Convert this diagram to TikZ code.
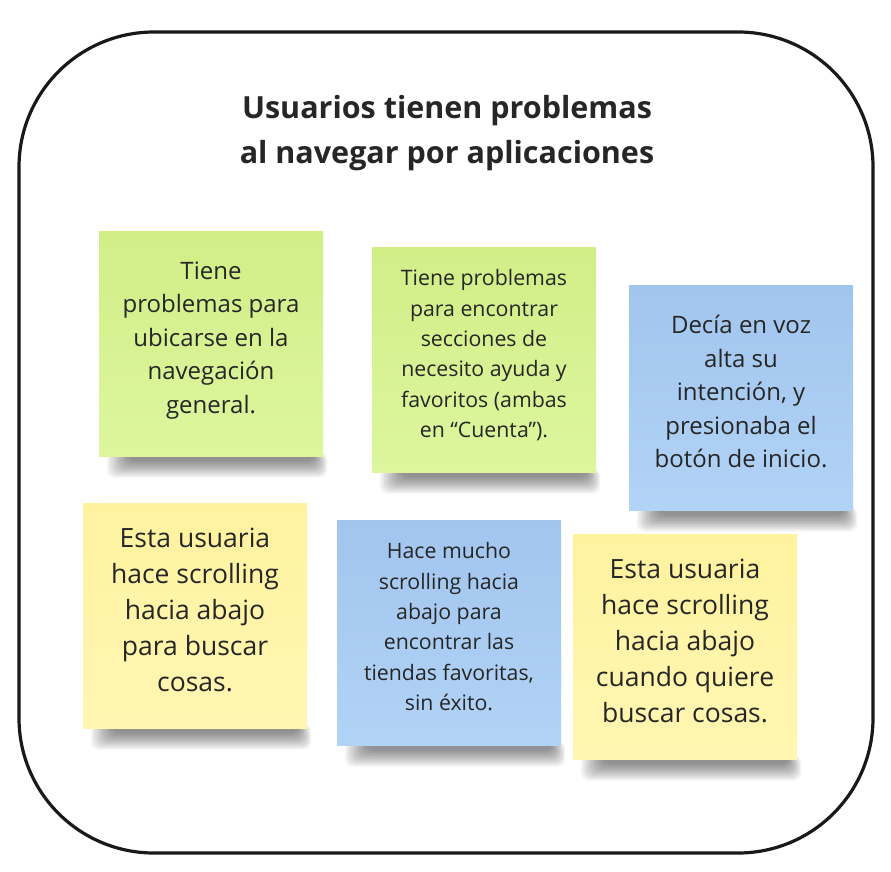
\documentclass[tikz,border=0pt]{standalone}
\usepackage{fontspec}
\setmainfont{Open Sans}
\usetikzlibrary{positioning}

\definecolor{greentop}{HTML}{D1EE87}
\definecolor{greenbot}{HTML}{DDF69E}
\definecolor{bluetop}{HTML}{A2C5EE}
\definecolor{bluebot}{HTML}{B1D3F6}
\definecolor{yellowtop}{HTML}{FFF29F}
\definecolor{yellowbot}{HTML}{FFF6B2}
\definecolor{inkgray}{HTML}{262626}

\pgfdeclarelayer{background}
\pgfsetlayers{background,main}

\tikzset{
  frame/.style={draw=black!90, line width=3.2pt, rounded corners=135pt},
  title/.style={align=center, text=inkgray, font=\bfseries\fontsize{30.5}{45}\selectfont},
  note/.style={minimum width=224pt, minimum height=225pt, inner sep=0pt, text depth=13pt, align=center, text=inkgray},
  greennote/.style={note, top color=greentop, bottom color=greenbot},
  bluenote/.style={note, top color=bluetop, bottom color=bluebot},
  yellownote/.style={note, top color=yellowtop, bottom color=yellowbot},
  bigtext/.style={font=\fontsize{26.5}{36}\selectfont},
  midtext/.style={font=\fontsize{24}{33.5}\selectfont},
  smalltext/.style={font=\fontsize{21.3}{30.3}\selectfont},
}

\begin{document}
\begin{tikzpicture}[x=1pt,y=-1pt]
\useasboundingbox (0,0) rectangle (891,872);
\draw[frame] (19,32) rectangle (873,853);

\node[title] (title) at (447,133) {Usuarios tienen problemas\\al navegar por aplicaciones};

% first row
\node[greennote, midtext] (n1) at (211,344) {Tiene\\problemas para\\ubicarse en la\\navegación\\general.};
\node[greennote, smalltext] (n2) at (484,360) {Tiene problemas\\para encontrar\\secciones de\\necesito ayuda y\\favoritos (ambas\\en “Cuenta”).};
\node[bluenote, midtext] (n3) at (741,398) {Decía en voz\\alta su\\intención, y\\presionaba el\\botón de inicio.};

% second row
\node[yellownote, bigtext] (n4) at (195,616) {Esta usuaria\\hace scrolling\\hacia abajo\\para buscar\\cosas.};
\node[bluenote, smalltext] (n5) at (449,633) {Hace mucho\\scrolling hacia\\abajo para\\encontrar las\\tiendas favoritas,\\sin éxito.};
\node[yellownote, bigtext] (n6) at (685,647) {Esta usuaria\\hace scrolling\\hacia abajo\\cuando quiere\\buscar cosas.};

% white page and soft shadows under the notes
\begin{pgfonlayer}{background}
\fill[white] (0,0) rectangle (891,872);
\foreach \n in {n1,n2,n3,n4,n5,n6}{
  \foreach \k in {0,...,11}{
    \fill[black, opacity=0.045, rounded corners=8pt]
      ([xshift={8+2*\k}, yshift=4]\n.south west) rectangle ([xshift={4-1.2*\k}, yshift={-(21-1.5*\k)}]\n.south east);
  }
}
\end{pgfonlayer}
\end{tikzpicture}
\end{document}
